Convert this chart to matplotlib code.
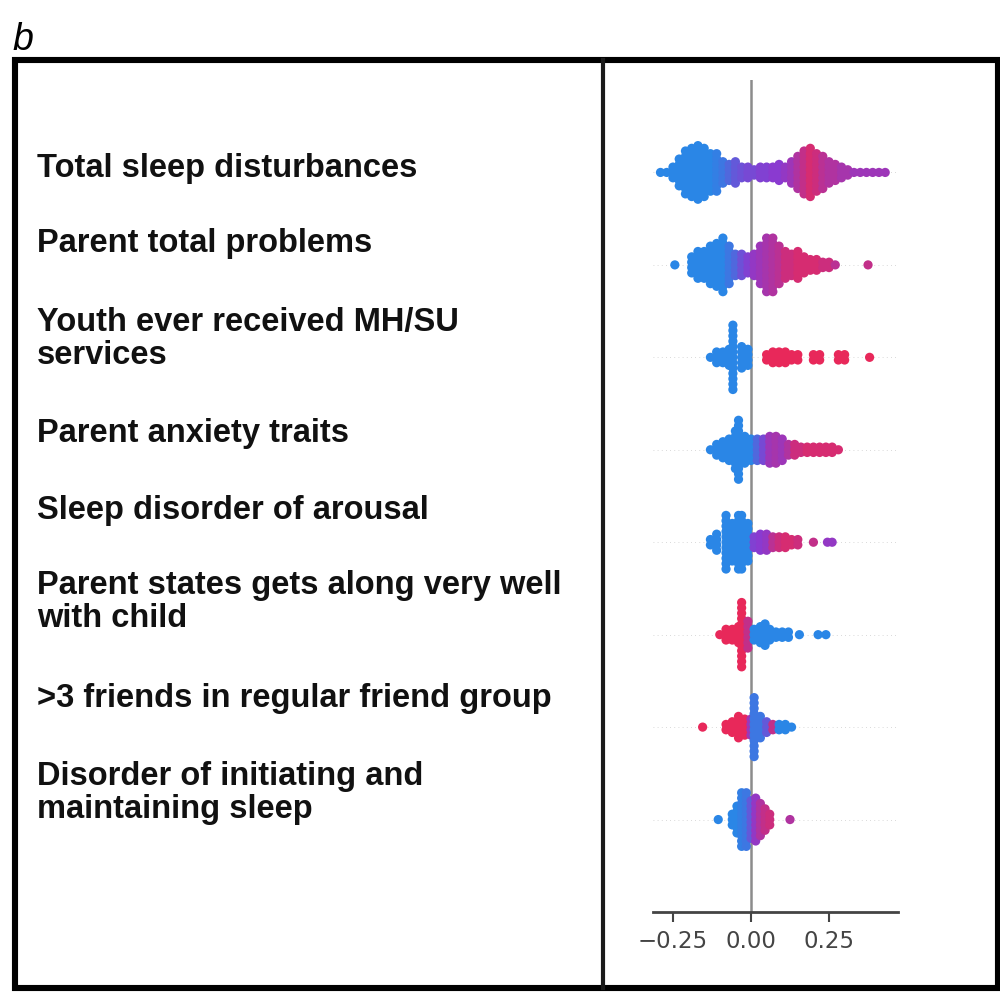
import numpy as np
import matplotlib
matplotlib.use("Agg")
import matplotlib.pyplot as plt
from matplotlib.colors import LinearSegmentedColormap
from matplotlib.patches import Rectangle
from matplotlib.lines import Line2D

# Feature names, top to bottom
features = [
    "Total sleep disturbances",
    "Parent total problems",
    "Youth ever received MH/SU\nservices",
    "Parent anxiety traits",
    "Sleep disorder of arousal",
    "Parent states gets along very well\nwith child",
    ">3 friends in regular friend group",
    "Disorder of initiating and\nmaintaining sleep",
]

# Per feature: SHAP value bin centres, number of samples in each bin,
# and the (scaled 0..1) feature value colouring that bin.
shap_x = [
    [-0.29, -0.27, -0.25, -0.23, -0.21, -0.19, -0.17, -0.15, -0.13, -0.11, -0.09, -0.07,
     -0.05, -0.03, -0.01, 0.01, 0.03, 0.05, 0.07, 0.09, 0.11, 0.13, 0.15, 0.17, 0.19,
     0.21, 0.23, 0.25, 0.27, 0.29, 0.31, 0.33, 0.35, 0.37, 0.39, 0.41, 0.43],
    [-0.244, -0.19, -0.17, -0.15, -0.13, -0.11, -0.09, -0.07, -0.05, -0.03, -0.01, 0.01,
     0.03, 0.05, 0.07, 0.09, 0.11, 0.13, 0.15, 0.17, 0.19, 0.21, 0.23, 0.25, 0.27, 0.375],
    [-0.13, -0.11, -0.09, -0.07, -0.058, -0.03, -0.01,
     0.05, 0.07, 0.09, 0.11, 0.13, 0.15, 0.20, 0.22, 0.28, 0.30, 0.38],
    [-0.13, -0.11, -0.09, -0.07, -0.05, -0.04, -0.02, 0.0, 0.02, 0.04, 0.06, 0.08, 0.10,
     0.12, 0.14, 0.16, 0.18, 0.20, 0.22, 0.24, 0.26, 0.28],
    [-0.13, -0.11, -0.08, -0.06, -0.04, -0.03, -0.01, 0.01, 0.03, 0.05, 0.07, 0.09, 0.11,
     0.13, 0.15, 0.20, 0.245, 0.26],
    [-0.10, -0.08, -0.06, -0.04, -0.03, -0.01, 0.01, 0.03, 0.045, 0.06, 0.08, 0.10, 0.12,
     0.155, 0.215, 0.24],
    [-0.155, -0.08, -0.06, -0.04, -0.02, 0.0, 0.01, 0.03, 0.05, 0.07, 0.09, 0.11, 0.13],
    [-0.105, -0.06, -0.045, -0.03, -0.015, 0.0, 0.015, 0.03, 0.045, 0.06, 0.125],
]
counts = [
    [1, 1, 3, 6, 9, 10, 11, 10, 8, 8, 5, 4, 5, 3, 3, 2, 3, 3, 3, 4, 3, 5, 7, 9, 10, 8, 7,
     5, 4, 3, 2, 1, 1, 1, 1, 1, 1],
    [1, 4, 6, 6, 8, 9, 11, 8, 5, 5, 4, 5, 8, 11, 11, 8, 6, 5, 6, 4, 3, 3, 2, 2, 1, 1],
    [1, 3, 3, 4, 13, 5, 4, 2, 3, 3, 3, 2, 2, 2, 2, 2, 2, 1],
    [1, 3, 4, 5, 8, 12, 6, 5, 5, 5, 6, 6, 5, 3, 3, 2, 2, 2, 2, 2, 2, 1],
    [2, 4, 11, 8, 11, 11, 8, 3, 4, 4, 3, 3, 3, 2, 2, 1, 1, 1],
    [1, 3, 3, 4, 13, 6, 3, 4, 5, 3, 2, 2, 2, 1, 1, 1],
    [1, 2, 3, 5, 4, 4, 12, 5, 3, 2, 2, 2, 1],
    [1, 3, 6, 11, 11, 8, 9, 7, 5, 3, 1],
]
feature_value = [
    [0, 0, 0, 0, 0, 0, 0, 0, 0, 0.05, 0.1, 0.2, 0.3, 0.35, 0.4, 0.4, 0.45, 0.45, 0.5, 0.5,
     0.55, 0.6, 0.7, 0.8, 0.9, 0.85, 0.75, 0.7, 0.7, 0.65, 0.65, 0.6, 0.6, 0.6, 0.6, 0.6, 0.6],
    [0, 0, 0, 0, 0, 0, 0, 0.1, 0.2, 0.35, 0.45, 0.55, 0.6, 0.65, 0.7, 0.75, 0.85, 0.85,
     0.9, 0.9, 0.9, 0.9, 0.85, 0.85, 0.75, 0.8],
    [0, 0, 0, 0, 0, 0, 0, 1, 1, 1, 1, 1, 1, 1, 1, 1, 1, 1],
    [0, 0, 0, 0, 0, 0, 0, 0, 0.2, 0.4, 0.6, 0.65, 0.6, 0.7, 0.85, 0.85, 0.9, 0.9, 0.9,
     0.9, 0.9, 0.9],
    [0, 0, 0, 0, 0, 0, 0, 0.45, 0.5, 0.55, 0.75, 0.85, 0.9, 0.9, 0.85, 0.8, 0.55, 0.55],
    [1, 1, 1, 1, 1, 0.8, 0, 0, 0, 0, 0, 0, 0, 0, 0, 0],
    [1, 1, 1, 1, 1, 0.6, 0.1, 0.1, 0.3, 0.8, 0, 0, 0],
    [0, 0, 0, 0.05, 0.1, 0.3, 0.55, 0.7, 0.8, 0.85, 0.7],
]

xticks = [-0.25, 0.0, 0.25]
xtick_labels = ["\u22120.25", "0.00", "0.25"]

# label centres (pixels from top) in the left-hand panel
label_y_px = [168, 243, 339, 433, 510, 602, 699, 793]

W, H = 1000, 996
fig = plt.figure(figsize=(W / 100, H / 100), dpi=100)

cmap = LinearSegmentedColormap.from_list(
    "shap_rb", ["#2a86e6", "#8a3ad0", "#e8285a"])

# ── beeswarm panel
ax = fig.add_axes([653 / W, 1 - 912 / H, 245 / W, 832 / H])
n = len(features)
dy = 0.058  # vertical step between stacked points (row units)
for i, (xs, cs, fv) in enumerate(zip(shap_x, counts, feature_value)):
    pos = n - 1 - i
    ax.axhline(pos, color="#cccccc", lw=0.6, dashes=(1, 4), zorder=-1)
    px, py, pc = [], [], []
    for x, c, v in zip(xs, cs, fv):
        offs = (np.arange(c) - (c - 1) / 2) * dy
        px += [x] * c
        py += list(pos + offs)
        pc += [v] * c
    ax.scatter(px, py, c=pc, cmap=cmap, vmin=0, vmax=1, s=44,
               linewidths=0, zorder=3)

ax.axvline(0, color="#8c8c8c", lw=1.8, zorder=-1)
ax.set_xlim(-0.314, 0.471)
ax.set_ylim(-1, n)
ax.set_yticks([])
for side in ("left", "right", "top"):
    ax.spines[side].set_visible(False)
ax.spines["bottom"].set_color("#444444")
ax.spines["bottom"].set_linewidth(2.0)
ax.set_xticks(xticks)
ax.set_xticklabels(xtick_labels)
ax.tick_params(axis="x", colors="#444444", labelsize=16.5, length=7, width=1.5, pad=6)

# ── feature labels
for lab, ypx in zip(features, label_y_px):
    fig.text(37 / W, 1 - ypx / H, lab, ha="left", va="center",
             family="Liberation Sans", weight="bold", fontsize=23.5,
             linespacing=1.08, color="#111111")

# ── frame and divider
fig.add_artist(Rectangle((14.5 / W, 1 - 988 / H), (997.5 - 14.5) / W, (988 - 60) / H,
                         transform=fig.transFigure, fill=False, ec="black", lw=4.4))
fig.add_artist(Line2D([603 / W, 603 / W], [1 - 988 / H, 1 - 60 / H],
                      transform=fig.transFigure, color="#1a1a1a", lw=3.0))

fig.text(12 / W, 1 - 50 / H, "b", ha="left", va="baseline",
         family="Liberation Sans", style="italic", fontsize=27)

fig.savefig("out.png", dpi=100)
